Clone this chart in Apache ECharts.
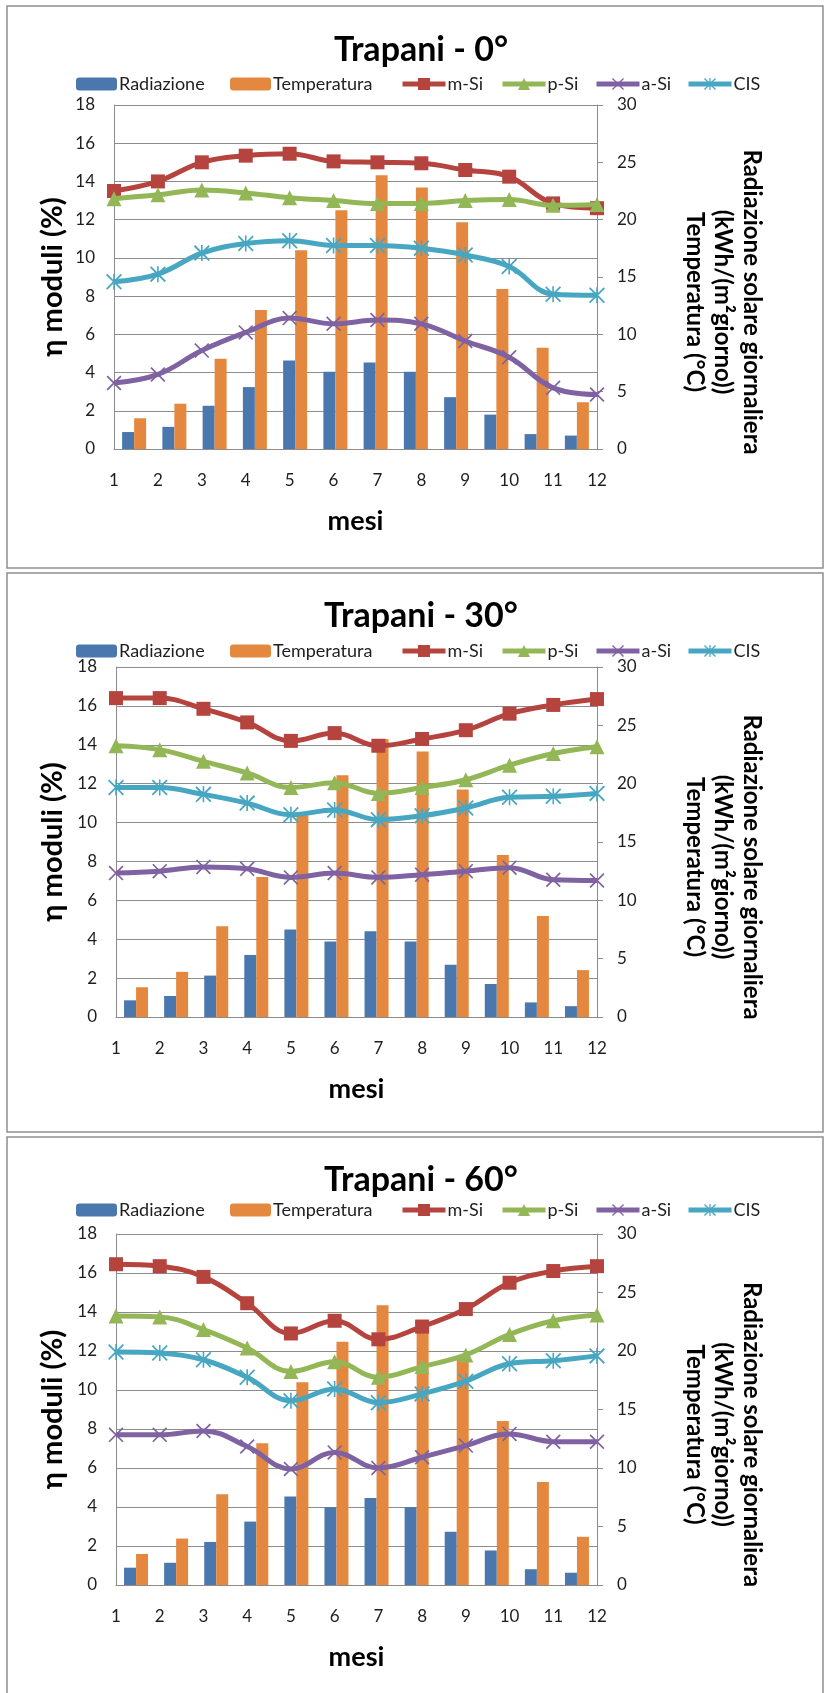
<!DOCTYPE html>
<html><head><meta charset="utf-8">
<script src="https://cdn.jsdelivr.net/npm/echarts@6/dist/echarts.min.js"></script>
<style>html,body{margin:0;padding:0;background:#fff}#c{width:826px;height:1693px}</style>
</head><body><div id="c"></div>
<script>
// ---------- DATA ----------
const months = ['1','2','3','4','5','6','7','8','9','10','11','12'];
const panelTitles = ['Trapani - 0°', 'Trapani - 30°', 'Trapani - 60°'];
const seriesNames = ['Radiazione', 'Temperatura', 'm-Si', 'p-Si', 'a-Si', 'CIS'];
const leftAxisMax = 18, leftAxisStep = 2;
const rightAxisMax = 30, rightAxisStep = 5;

// Tilt 0°
const radiazione0  = [1.48, 1.93, 3.77, 5.40, 7.72, 6.73, 7.55, 6.73, 4.52, 3.00, 1.30, 1.17];
const temperatura0 = [2.68, 3.95, 7.87, 12.12, 17.33, 20.83, 23.88, 22.80, 19.77, 13.95, 8.82, 4.08];
const mSi0 = [13.5, 14.0, 15.0, 15.35, 15.45, 15.05, 15.0, 14.95, 14.6, 14.25, 12.85, 12.6];
const pSi0 = [13.1, 13.3, 13.55, 13.4, 13.15, 13.0, 12.85, 12.85, 13.0, 13.05, 12.75, 12.8];
const aSi0 = [3.45, 3.9, 5.15, 6.1, 6.85, 6.55, 6.75, 6.55, 5.65, 4.8, 3.2, 2.85];
const cis0 = [8.75, 9.15, 10.25, 10.75, 10.9, 10.65, 10.65, 10.5, 10.15, 9.55, 8.1, 8.05];

// Tilt 30°
const radiazione30  = [1.43, 1.80, 3.55, 5.32, 7.50, 6.47, 7.35, 6.47, 4.48, 2.83, 1.25, 0.93];
const temperatura30 = [2.55, 3.87, 7.78, 12.00, 17.30, 20.72, 23.83, 22.75, 19.50, 13.88, 8.65, 4.02];
const mSi30 = [16.4, 16.4, 15.85, 15.15, 14.2, 14.6, 13.95, 14.3, 14.75, 15.6, 16.05, 16.35];
const pSi30 = [13.95, 13.75, 13.15, 12.55, 11.8, 12.05, 11.5, 11.8, 12.2, 12.95, 13.55, 13.9];
const aSi30 = [7.4, 7.5, 7.72, 7.62, 7.18, 7.4, 7.18, 7.32, 7.5, 7.68, 7.06, 7.02];
const cis30 = [11.8, 11.8, 11.45, 11.0, 10.4, 10.65, 10.15, 10.35, 10.75, 11.3, 11.35, 11.5];

// Tilt 60°
const radiazione60  = [1.48, 1.90, 3.68, 5.42, 7.57, 6.65, 7.43, 6.65, 4.55, 2.95, 1.35, 1.05];
const temperatura60 = [2.65, 3.97, 7.75, 12.12, 17.32, 20.78, 23.90, 22.67, 19.50, 14.02, 8.80, 4.12];
const mSi60 = [16.45, 16.35, 15.8, 14.45, 12.9, 13.55, 12.6, 13.25, 14.15, 15.5, 16.1, 16.35];
const pSi60 = [13.8, 13.75, 13.1, 12.15, 10.95, 11.45, 10.65, 11.2, 11.8, 12.85, 13.55, 13.85];
const aSi60 = [7.7, 7.7, 7.9, 7.1, 5.95, 6.8, 6.0, 6.55, 7.15, 7.75, 7.35, 7.35];
const cis60 = [11.95, 11.9, 11.55, 10.65, 9.45, 10.05, 9.35, 9.8, 10.45, 11.35, 11.5, 11.75];

const xAxisName = 'mesi';
const leftAxisName = 'η moduli (%)';
const rightAxisNameLines = ['Radiazione solare giornaliera', '(kWh/(m²giorno))', 'Temperatura (°C)'];

// ---------- LAYOUT / STYLE ----------
const panelData = [
  [radiazione0, temperatura0, mSi0, pSi0, aSi0, cis0],
  [radiazione30, temperatura30, mSi30, pSi30, aSi30, cis30],
  [radiazione60, temperatura60, mSi60, pSi60, aSi60, cis60]
];
const layout = [
  {gridTop:105, gridH:344, gridLeft:114, box:[7,6,816,562], titleY:50, legendTop:75},
  {gridTop:667, gridH:350, gridLeft:116, box:[7,573,816,559], titleY:616, legendTop:642},
  {gridTop:1234, gridH:351, gridLeft:116, box:[7,1137,816,600], titleY:1180, legendTop:1201}
];
const plotRight = 597;
const legendLeft = [76, 230, 400, 500, 594, 686];
const FONT = 'Lato, "Open Sans", sans-serif';
const C = ['#4a78ae', '#e5883f', '#b5443f', '#93b756', '#7f62a1', '#47a7c2'];
const XSYM = 'path://M0,0.8L0.8,0L10,9.2L9.2,10Z M9.2,0L10,0.8L0.8,10L0,9.2Z';
const STAR = 'path://M0,0.8L0.8,0L10,9.2L9.2,10Z M9.2,0L10,0.8L0.8,10L0,9.2Z M4.5,0L5.5,0L5.5,10L4.5,10Z';
const symbols = [null, null, 'rect', 'triangle', XSYM, STAR];
const symbolSizes = [0, 0, 14, 15, 15, 16];
const GRID_C = '#8c8c8c';
const TXT = '#1e1e1e';

const grids = [], xAxes = [], yAxes = [], series = [], legends = [], graphics = [];

layout.forEach((L, p) => {
  grids.push({left: L.gridLeft, right: 826 - plotRight, top: L.gridTop, height: L.gridH, containLabel: false});
  xAxes.push({type:'category', gridIndex:p, position:'bottom', data:months, boundaryGap:true, show:false});
  xAxes.push({type:'category', gridIndex:p, position:'bottom', data:months, boundaryGap:false,
    axisLine:{show:true, onZero:false, lineStyle:{color:GRID_C, width:1}}, axisTick:{show:false},
    axisLabel:{color:TXT, fontSize:17, fontFamily:FONT, margin:23}, splitLine:{show:false}});
  yAxes.push({type:'value', gridIndex:p, position:'left', min:0, max:leftAxisMax, interval:leftAxisStep,
    axisLine:{show:true, lineStyle:{color:GRID_C, width:1}}, axisTick:{show:false},
    axisLabel:{color:TXT, fontSize:17, fontFamily:FONT, margin:19},
    splitLine:{show:true, lineStyle:{color:GRID_C, width:1}}});
  yAxes.push({type:'value', gridIndex:p, position:'right', min:0, max:rightAxisMax, interval:rightAxisStep,
    axisLine:{show:true, lineStyle:{color:GRID_C, width:1}},
    axisTick:{show:true, inside:false, length:6, lineStyle:{color:GRID_C}},
    axisLabel:{color:TXT, fontSize:17, fontFamily:FONT, margin:20}, splitLine:{show:false}});

  const d = panelData[p];
  for (let k = 0; k < 2; k++) {
    series.push({type:'bar', name:seriesNames[k], xAxisIndex:2*p, yAxisIndex:2*p+1, data:d[k],
      barWidth:12, barGap:'0%', itemStyle:{color:C[k]}, z:2, animation:false});
  }
  for (let k = 2; k < 6; k++) {
    series.push({type:'line', name:seriesNames[k], xAxisIndex:2*p+1, yAxisIndex:2*p, data:d[k],
      smooth:0.4, symbol:symbols[k], symbolSize:symbolSizes[k], showAllSymbol:true,
      lineStyle:{color:C[k], width:5}, itemStyle:{color:C[k]}, z:5+k, animation:false});
  }
  seriesNames.forEach((n, k) => {
    legends.push({data:[n], left:legendLeft[k], top:L.legendTop, orient:'horizontal',
      itemWidth: k < 2 ? 41 : 43, itemHeight: k < 2 ? 13 : 15, selectedMode:false, padding:0,
      lineStyle:{width:5},
      textStyle:{color:TXT, fontSize:18, fontFamily:FONT, padding:[0,0,0,-3]}});
  });

  const b = L.box;
  graphics.push({type:'rect', shape:{x:b[0], y:b[1], width:b[2], height:b[3]},
    style:{fill:'none', stroke:'#8f8f8f', lineWidth:1.5}, silent:true});
  graphics.push({type:'text', x:421, y:L.titleY,
    style:{text:panelTitles[p], font:'bold 34px ' + FONT, fill:'#000', align:'center', verticalAlign:'middle'}});
  const cy = L.gridTop + L.gridH / 2;
  const bottom = L.gridTop + L.gridH;
  graphics.push({type:'text', x:53, y:cy, rotation:Math.PI/2,
    style:{text:leftAxisName, font:'bold 29px ' + FONT, fill:'#000', align:'center', verticalAlign:'middle'}});
  graphics.push({type:'text', x:(L.gridLeft + plotRight)/2, y:bottom + 72,
    style:{text:xAxisName, font:'bold 27px ' + FONT, fill:'#000', align:'center', verticalAlign:'middle'}});
  const rx = [752, 723, 695];
  rightAxisNameLines.forEach((t, j) => {
    graphics.push({type:'text', x:rx[j], y:cy + 25, rotation:-Math.PI/2,
      style:{text:t, font:'bold 24px ' + FONT, fill:'#000', align:'center', verticalAlign:'middle'}});
  });
});

const chart = echarts.init(document.getElementById('c'), null, {renderer:'canvas'});
chart.setOption({
  animation:false,
  backgroundColor:'#fff',
  textStyle:{fontFamily:FONT},
  grid:grids, xAxis:xAxes, yAxis:yAxes, series:series, legend:legends, graphic:graphics
});
</script>
</body></html>
